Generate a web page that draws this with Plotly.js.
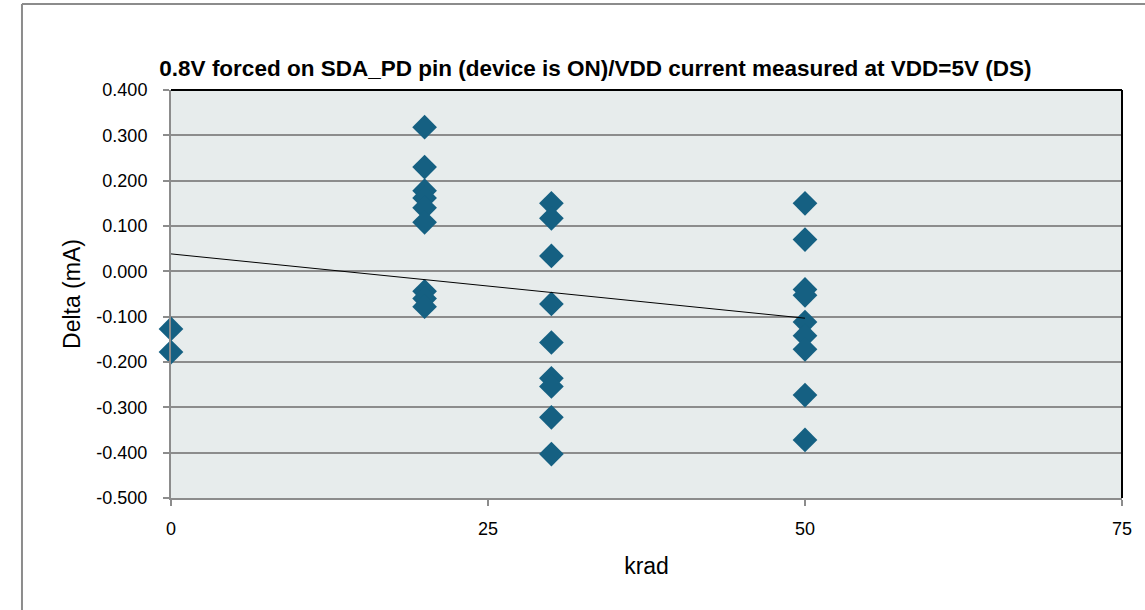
<!DOCTYPE html>
<html>
<head>
<meta charset="utf-8">
<script src="https://cdn.plot.ly/plotly-3.0.1.min.js"></script>
<style>html,body{margin:0;padding:0;background:#fff;}#chart{width:1145px;height:610px;}</style>
</head>
<body>
<div id="chart"></div>
<script>
// Data
const krad = [0, 0,
  20, 20, 20, 20, 20, 20, 20, 20, 20,
  30, 30, 30, 30, 30, 30, 30, 30, 30,
  50, 50, 50, 50, 50, 50, 50, 50, 50];
const deltaMA = [-0.127, -0.178,
  0.318, 0.230, 0.178, 0.162, 0.140, 0.108, -0.044, -0.060, -0.078,
  0.150, 0.117, 0.034, -0.072, -0.157, -0.236, -0.254, -0.322, -0.403,
  0.150, 0.070, -0.040, -0.053, -0.112, -0.142, -0.172, -0.273, -0.372];
const xTickVals = [0, 25, 50, 75];
const yTickVals = [0.4, 0.3, 0.2, 0.1, 0, -0.1, -0.2, -0.3, -0.4, -0.5];
const yTickText = ['0.400', '0.300', '0.200', '0.100', '0.000', '-0.100', '-0.200', '-0.300', '-0.400', '-0.500'];
const chartTitle = '0.8V forced on SDA_PD pin (device is ON)/VDD current measured at VDD=5V (DS)';

// Linear least-squares trendline (as Excel's linear trendline)
const n = krad.length;
const mx = krad.reduce((a, b) => a + b, 0) / n;
const my = deltaMA.reduce((a, b) => a + b, 0) / n;
let sxy = 0, sxx = 0;
for (let i = 0; i < n; i++) { sxy += (krad[i] - mx) * (deltaMA[i] - my); sxx += (krad[i] - mx) ** 2; }
const slope = sxy / sxx, icpt = my - slope * mx;
const tx = [Math.min(...krad), Math.max(...krad)];
const ty = tx.map(x => icpt + slope * x);

const FONT = 'Liberation Sans, Arial, sans-serif';
const traces = [
  {x: krad, y: deltaMA, type: 'scatter', mode: 'markers', cliponaxis: false,
   marker: {symbol: 'diamond', size: 19, color: '#156082', line: {width: 0}},
   hoverinfo: 'x+y', showlegend: false},
  {x: tx, y: ty, type: 'scatter', mode: 'lines',
   line: {color: '#000000', width: 1}, hoverinfo: 'skip', showlegend: false}
];
const layout = {
  width: 1145, height: 610,
  margin: {l: 171, r: 23, t: 90, b: 112},
  paper_bgcolor: '#ffffff', plot_bgcolor: '#e7ecec',
  font: {family: FONT, color: '#000'},
  title: {text: '<b>' + chartTitle + '</b>', font: {family: FONT, size: 22.5, color: '#000'},
          x: 0.52, xanchor: 'center', xref: 'container', y: 0.888, yanchor: 'middle', yref: 'container'},
  xaxis: {range: [0, 75], tickvals: xTickVals, ticktext: xTickVals.map(String),
          showgrid: false, zeroline: false, showline: true, linecolor: '#8c8c8c', linewidth: 2,
          ticks: 'outside', ticklen: 6, tickwidth: 2, tickcolor: '#8c8c8c',
          tickfont: {family: FONT, size: 18, color: '#000'}, ticklabelstandoff: 7,
          title: {text: 'krad', font: {family: FONT, size: 23, color: '#000'}, standoff: 20}},
  yaxis: {range: [-0.5, 0.4], tickvals: yTickVals, ticktext: yTickText,
          showgrid: true, gridcolor: '#8c8c8c', gridwidth: 2, zeroline: false,
          showline: true, linecolor: '#8c8c8c', linewidth: 2,
          ticks: 'outside', ticklen: 6, tickwidth: 2, tickcolor: '#8c8c8c',
          tickfont: {family: FONT, size: 18, color: '#000'}, ticklabelstandoff: 12,
          title: {text: 'Delta (mA)', font: {family: FONT, size: 23, color: '#000'}, standoff: 9}},
  shapes: [
    {type: 'line', xref: 'paper', yref: 'paper', x0: 0, x1: 1, y0: 1, y1: 1, line: {color: '#000', width: 2}},
    {type: 'line', xref: 'paper', yref: 'paper', x0: 1, x1: 1, y0: 0, y1: 1, line: {color: '#000', width: 2}},
    {type: 'line', xref: 'paper', yref: 'paper', x0: -0.1567, x1: -0.1567, y0: -0.35, y1: 1.2108, line: {color: '#8c8c8c', width: 2}},
    {type: 'line', xref: 'paper', yref: 'paper', x0: -0.1567, x1: 1.03, y0: 1.2108, y1: 1.2108, line: {color: '#8c8c8c', width: 2}}
  ]
};
Plotly.newPlot('chart', traces, layout, {displayModeBar: false, staticPlot: true});
</script>
</body>
</html>
